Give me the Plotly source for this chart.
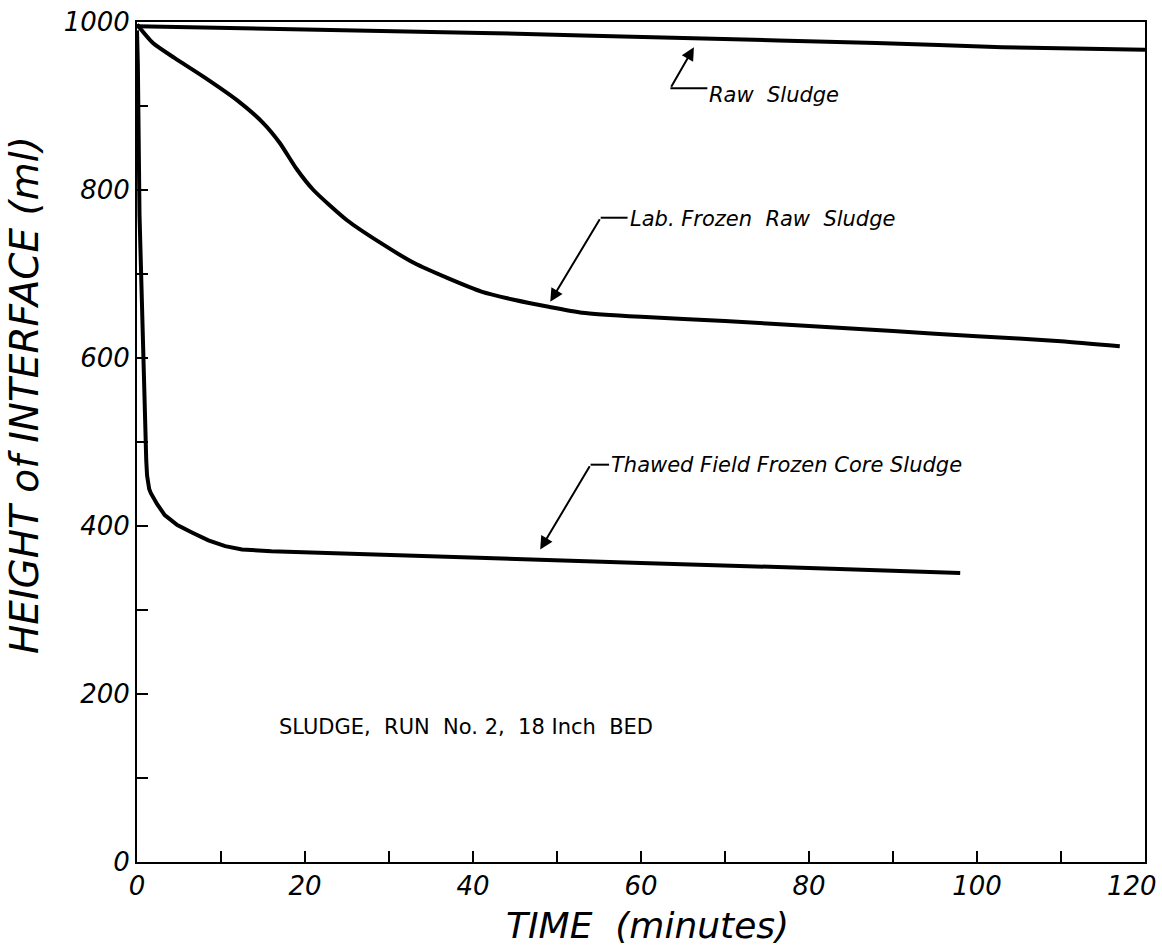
import plotly.graph_objects as go

# ---- data ----
raw_t = [0, 20, 41, 65, 88, 103, 120]
raw_v = [995, 991, 987, 981, 975, 970, 967]

lab_t = [0, 1.9, 4.5, 7.9, 11.9, 15, 17, 19, 21, 25, 29, 33, 37, 41, 45, 49, 53, 60, 70, 80, 90, 100, 110, 117]
lab_v = [997, 975, 957, 935, 907, 880, 856, 825, 800, 764, 737, 713, 695, 679, 669, 661, 654, 649, 644, 638, 632, 626, 620, 614]

thaw_t = [0, 0.1, 0.3, 0.55, 0.8, 1.0, 1.1, 1.2, 1.3, 1.45, 1.65, 1.9, 2.4, 3.3, 4.8, 6.6, 8.5, 10.5, 12.5, 16, 22, 40, 60, 80, 98]
thaw_v = [990, 950, 770, 670, 590, 505, 478, 460, 451, 444, 439, 434, 426, 413, 401, 392, 383, 376, 372, 370, 368, 363, 356, 350, 344]

x_tick_vals = list(range(0, 121, 10))
x_tick_text = ["0", "", "20", "", "40", "", "60", "", "80", "", "100", "", ""]
x_last_label = "120"
y_tick_vals = list(range(0, 1001, 100))
y_tick_text = ["0", "", "200", "", "400", "", "600", "", "800", "", "1000"]

labels = ["Raw  Sludge", "Lab. Frozen  Raw  Sludge", "Thawed Field Frozen Core Sludge"]
label_pos = [(67.9, 913), (58.4, 766), (56.2, 473)]
elbow = [(63.5, 921), (55.2, 767), (54.0, 473)]
tips = [(66.3, 970), (49.2, 667), (48.0, 372)]

note_text = "SLUDGE,  RUN  No. 2,  18 Inch  BED"
note_pos = (16.7, 161)

FONT = "DejaVu Sans"
TICKFONT = dict(family=FONT, size=26, color="black", style="italic")

fig = go.Figure()
fig.add_trace(go.Scatter(x=raw_t, y=raw_v, mode="lines",
                         line=dict(color="black", width=4, shape="spline", smoothing=0.6)))
fig.add_trace(go.Scatter(x=lab_t, y=lab_v, mode="lines",
                         line=dict(color="black", width=4, shape="spline", smoothing=0.6)))
fig.add_trace(go.Scatter(x=thaw_t, y=thaw_v, mode="lines", line=dict(color="black", width=4)))

# leader lines and arrows
for (lx, ly), (ex, ey), (tx, ty), txt in zip(label_pos, elbow, tips, labels):
    fig.add_shape(type="line", x0=ex, y0=ey, x1=lx, y1=ey, xref="x", yref="y",
                  line=dict(color="black", width=2))
    fig.add_annotation(x=tx, y=ty, ax=ex, ay=ey, xref="x", yref="y", axref="x", ayref="y",
                       text="", showarrow=True, arrowhead=2, arrowsize=1.3, arrowwidth=2,
                       arrowcolor="black")
    fig.add_annotation(x=lx, y=ly, xref="x", yref="y", text=txt, showarrow=False,
                       xanchor="left", yanchor="middle",
                       font=dict(family=FONT, size=21, color="black", style="italic"))

fig.add_annotation(x=note_pos[0], y=note_pos[1], xref="x", yref="y", text=note_text,
                   showarrow=False, xanchor="left", yanchor="middle",
                   font=dict(family=FONT, size=21, color="black"))

# last x tick label, kept inside the page
fig.add_annotation(x=x_tick_vals[-1], y=0, xref="x", yref="paper", text=x_last_label,
                   showarrow=False, xanchor="right", yanchor="middle",
                   xshift=14, yshift=-24, font=TICKFONT)

# axis titles as annotations
fig.add_annotation(x=0, y=0.556, xref="paper", yref="paper", xshift=-112,
                   text="HEIGHT of INTERFACE (ml)", textangle=-90, showarrow=False,
                   xanchor="center", yanchor="middle",
                   font=dict(family=FONT, size=39, color="black", style="italic"))
fig.add_annotation(x=0.506, y=0, xref="paper", yref="paper", yshift=-63,
                   text="TIME  (minutes)", showarrow=False,
                   xanchor="center", yanchor="middle",
                   font=dict(family=FONT, size=36, color="black", style="italic"))

axis_common = dict(showgrid=False, zeroline=False, showline=True, linecolor="black",
                   linewidth=2, mirror=True, ticks="inside", ticklen=11, tickwidth=2,
                   tickcolor="black", ticklabeloverflow="allow", automargin=False,
                   tickfont=TICKFONT)

fig.update_xaxes(range=[0, 120], tickmode="array", tickvals=x_tick_vals, ticktext=x_tick_text,
                 **axis_common)
fig.update_yaxes(range=[0, 1000], tickmode="array", tickvals=y_tick_vals, ticktext=y_tick_text,
                 **axis_common)

fig.update_layout(width=1162, height=950, showlegend=False,
                  margin=dict(l=137, r=17, t=22, b=88, autoexpand=False),
                  paper_bgcolor="white", plot_bgcolor="white")

fig.write_html("out.html")
